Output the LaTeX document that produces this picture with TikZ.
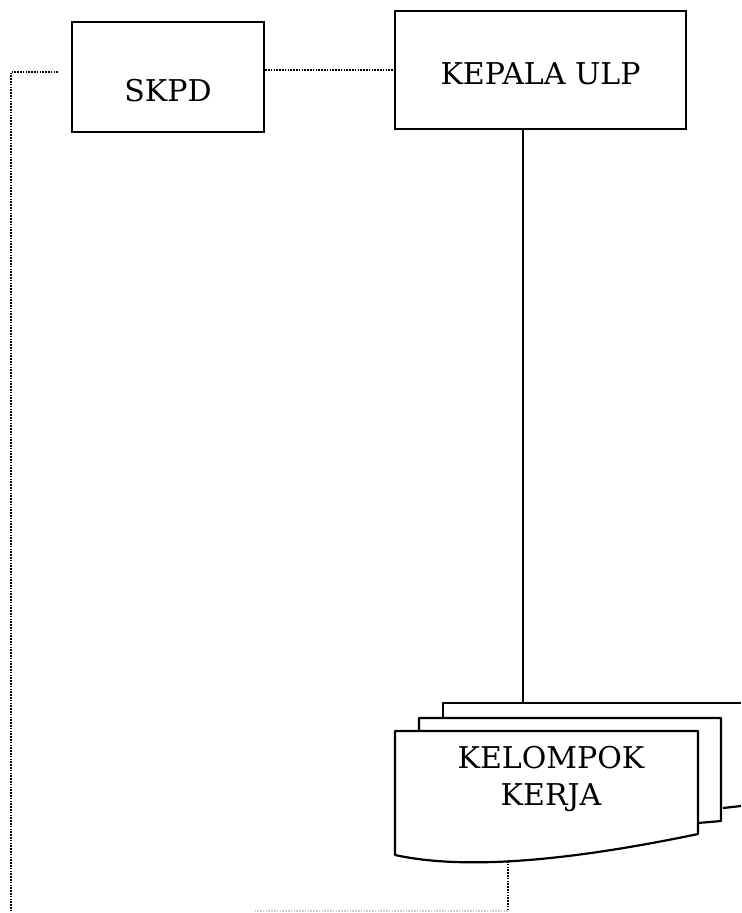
\documentclass[tikz,border=0pt]{standalone}
\usepackage{fontspec}
\setmainfont{DejaVu Serif}
\usetikzlibrary{positioning}
\tikzset{
  box/.style={draw, line width=1.1pt, inner sep=0pt, font=\fontsize{15}{18.5}\selectfont},
  dotline/.style={line width=0.9pt, dash pattern=on 0.8pt off 0.6pt},
  solidline/.style={line width=1pt},
  page/.style={draw, fill=white, line width=1.1pt, line join=round}
}
\begin{document}
\begin{tikzpicture}[x=0.5pt, y=-0.5pt]
	\useasboundingbox (0,0) rectangle (741,913);
	% boxes
	\node[box, minimum width=96pt, minimum height=55pt, text height=25pt] (skpd) at (168,77) {SKPD};
	\node[box, minimum width=145.5pt, minimum height=59pt, text height=15pt] (kepala) at (540.5,70) {KEPALA ULP};
	% stacked pages
	\draw[page] (443,718) -- (443,703) -- (741,703);
	\draw[page] (723,808) -- (741,806);
	\draw[page] (419,731) -- (419,718) -- (721,718) -- (721,821) -- (698,823);
	\draw[page] (395,731) -- (698,731) -- (698,834) .. controls (540,867) and (450,867) .. (395,855) -- cycle;
	\node[box, draw=none, align=center] (kk) at (551,779) {KELOMPOK\\KERJA};
	\coordinate (kkbot) at (508,861);
	\coordinate (corner) at (11,72);
	% connectors
	\draw[solidline] (kepala.south -| 523,0) -- (523,703);
	\draw[dotline] (skpd.east |- kepala.west) -- (kepala.west);
	\draw[dotline] (58,72) -- (corner) -- (11,913);
	\draw[dotline] (kkbot) -- (508,911);
	\draw[dotline, gray!40] (508,911) -- (255,911);
\end{tikzpicture}
\end{document}
